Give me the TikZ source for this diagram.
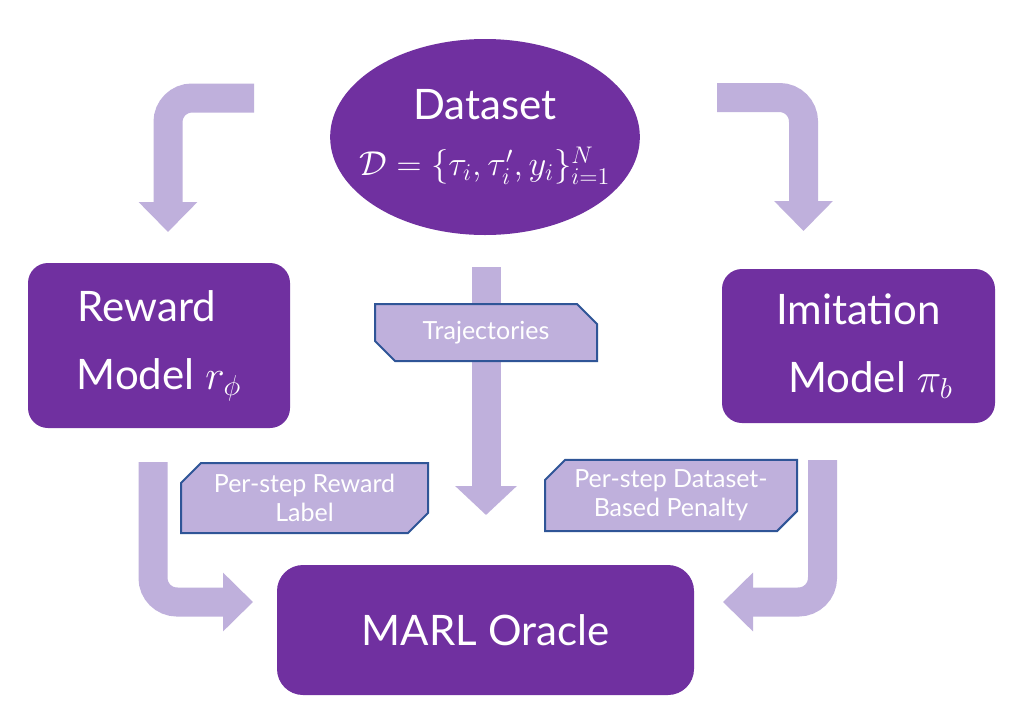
\documentclass[tikz,border=0pt]{standalone}
\usepackage{amsmath, amssymb}
\usepackage{fontspec}
\usetikzlibrary{positioning, arrows.meta, shapes.geometric, shapes.misc}
\newfontfamily\diagfont{Lato}
\definecolor{deeppurple}{HTML}{7030A0}
\definecolor{palepurple}{HTML}{BFB0DC}
\definecolor{tagblue}{HTML}{2F5597}

\begin{document}
\begin{tikzpicture}[
		x=0.5pt, y=-0.5pt,
		box/.style={rectangle, rounded corners=10pt, fill=deeppurple, text=white, align=center, inner sep=0pt, font=\diagfont\fontsize{21}{34}\selectfont},
		tag/.style={chamfered rectangle, chamfered rectangle xsep=5pt, chamfered rectangle ysep=5pt, fill=palepurple, draw=tagblue, line width=1pt, text=white, align=center, inner sep=0pt, font=\diagfont\fontsize{12.5}{14.5}\selectfont},
		bendarrow/.style={draw=palepurple, line width=14.5pt, rounded corners=12pt, -{Triangle[width=28.5pt, length=15pt]}}
		]
		
		\fill[white] (0,0) rectangle (1017,718);
		\useasboundingbox (0,0) rectangle (1017,718);
		
		% ==========================================
		% MAIN BLOCKS
		% ==========================================
		\node[ellipse, fill=deeppurple, text=white, align=center, inner xsep=-8pt, inner ysep=0pt, minimum height=98pt, font=\diagfont\fontsize{21}{28}\selectfont] (data) at (485,137) {
			Dataset \\
			{\fontsize{17}{20}\selectfont $\mathcal{D}=\{\tau_i,\tau'_i,y_i\}_{i=1}^{N}$}
		};
		\node[box, minimum width=131pt, minimum height=82.5pt] (reward) at (159,345.5) {
			Reward\hspace{12pt} \\ Model $r_\phi$
		};
		\node[box, minimum width=136.5pt, minimum height=77pt] (imit) at (858.5,346) {
			Imitation \\ \hspace{12pt}Model $\pi_b$
		};
		\node[box, rounded corners=13pt, minimum width=208.5pt, minimum height=65pt] (oracle) at (485.5,630) {MARL Oracle};
		
		% ==========================================
		% FLOW ARROWS
		% ==========================================
		\coordinate (tl-from) at (254,98);
		\coordinate (tl-to) at (168,232);
		\coordinate (tr-from) at (717,97.5);
		\coordinate (tr-to) at (803.5,231);
		\coordinate (mid-from) at (486,267);
		\coordinate (mid-to) at (486,515);
		\coordinate (bl-from) at (153,462);
		\coordinate (bl-to) at (253,602);
		\coordinate (br-from) at (822.5,460);
		\coordinate (br-to) at (723,602);
		
		\draw[bendarrow] (tl-from) -| (tl-to);
		\draw[bendarrow] (tr-from) -| (tr-to);
		\draw[bendarrow, -{Triangle[width=30pt, length=14.5pt]}] (mid-from) -- (mid-to);
		\draw[bendarrow] (bl-from) |- (bl-to);
		\draw[bendarrow] (br-from) |- (br-to);
		
		% ==========================================
		% ARROW LABELS
		% ==========================================
		\node[tag, chamfered rectangle corners={north east, south west}, minimum width=111pt, minimum height=28.5pt] (traj) at (486,332.5) {Trajectories};
		\node[tag, chamfered rectangle corners={north west, south east}, minimum width=123.5pt, minimum height=35pt] (rlabel) at (304.5,498) {Per-step Reward \\ Label};
		\node[tag, chamfered rectangle corners={north west, south east}, minimum width=126pt, minimum height=35.5pt] (plabel) at (671,495.5) {Per-step Dataset- \\ Based Penalty};
		
	\end{tikzpicture}
\end{document}
